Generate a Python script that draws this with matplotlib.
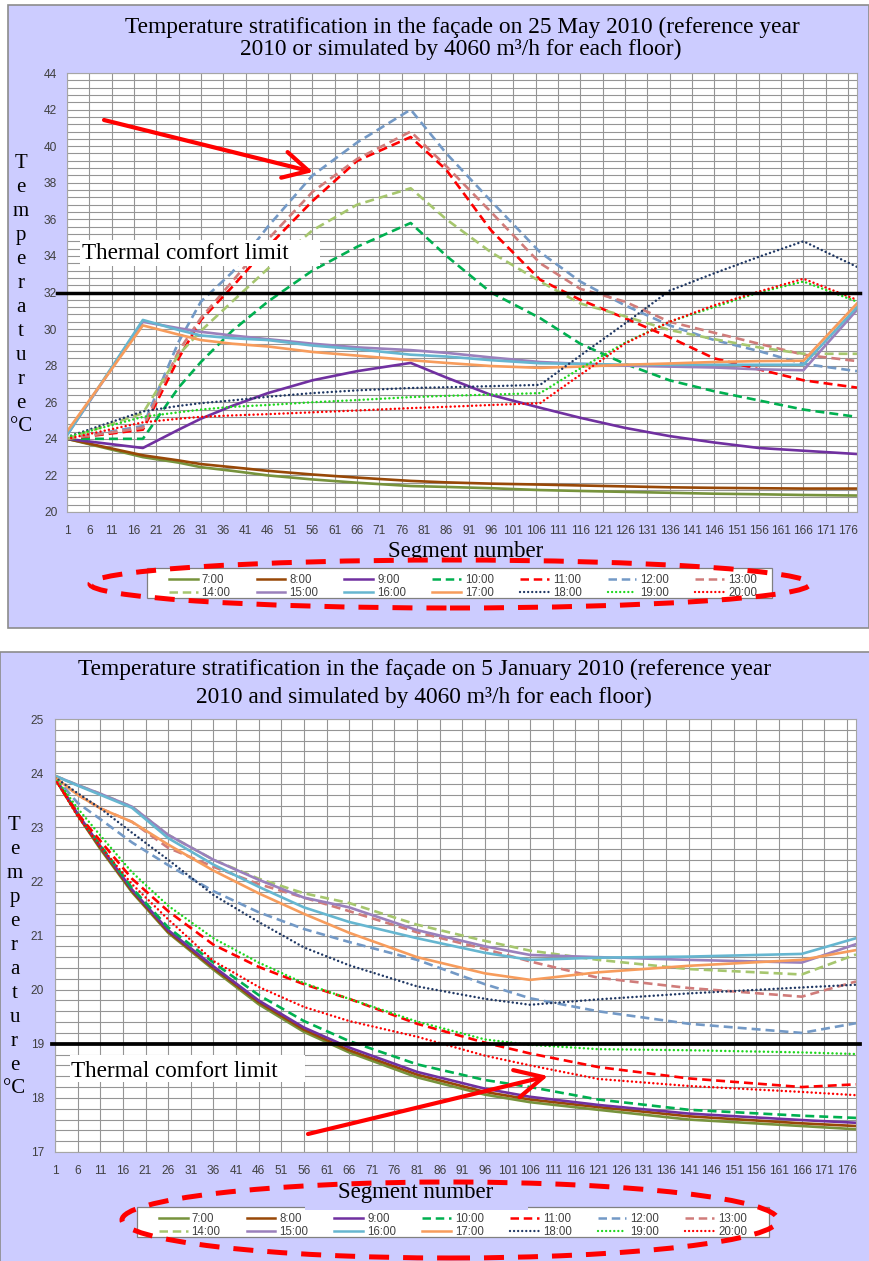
import numpy as np
import matplotlib
matplotlib.use("Agg")
import matplotlib.pyplot as plt
from matplotlib.patches import Rectangle, Ellipse, FancyArrowPatch
from matplotlib.lines import Line2D

# Data

hours = ["7:00", "8:00", "9:00", "10:00", "11:00", "12:00", "13:00",
         "14:00", "15:00", "16:00", "17:00", "18:00", "19:00", "20:00"]

# 25 May 2010
seg_may = [1, 18, 26, 31, 38, 46, 56, 66, 78, 86, 96, 107, 116, 126, 136, 146, 156, 166, 178]
may_07 = [24.0, 23.0, 22.7, 22.45, 22.25, 22.0, 21.78, 21.6, 21.42, 21.37, 21.3, 21.2, 21.15, 21.1, 21.05, 21.0, 20.97, 20.93, 20.9]
may_08 = [24.0, 23.1, 22.82, 22.62, 22.45, 22.25, 22.05, 21.88, 21.7, 21.62, 21.55, 21.5, 21.45, 21.4, 21.35, 21.32, 21.3, 21.28, 21.28]
may_09 = [24.0, 23.5, 24.5, 25.1, 25.8, 26.5, 27.2, 27.7, 28.15, 27.35, 26.4, 25.7, 25.15, 24.6, 24.15, 23.8, 23.5, 23.35, 23.17]
may_10 = [24.0, 24.0, 26.8, 28.2, 29.9, 31.5, 33.2, 34.5, 35.8, 34.0, 32.0, 30.6, 29.2, 28.1, 27.2, 26.6, 26.1, 25.6, 25.2]
may_11 = [24.0, 24.5, 28.4, 30.5, 32.3, 34.5, 37.0, 39.2, 40.5, 38.7, 35.4, 32.7, 31.6, 30.6, 29.55, 28.4, 27.8, 27.2, 26.8]
may_12 = [24.0, 24.7, 29.3, 31.5, 33.1, 35.6, 38.4, 40.2, 42.0, 39.6, 37.0, 34.2, 32.6, 31.3, 30.2, 29.4, 28.8, 28.1, 27.7]
may_13 = [24.0, 24.6, 28.8, 30.6, 32.6, 34.9, 37.5, 39.3, 40.8, 38.9, 36.4, 33.6, 32.2, 31.5, 30.4, 29.8, 29.2, 28.6, 28.25]
may_14 = [24.0, 25.4, 28.6, 29.9, 31.5, 33.3, 35.4, 36.8, 37.7, 36.0, 34.2, 32.6, 31.4, 30.7, 29.95, 29.45, 29.0, 28.65, 28.65]
may_15 = [24.2, 30.4, 30.05, 29.85, 29.65, 29.45, 29.2, 29.0, 28.85, 28.7, 28.45, 28.2, 28.1, 28.0, 27.95, 27.9, 27.8, 27.75, 31.05]
may_16 = [24.2, 30.5, 29.95, 29.65, 29.5, 29.4, 29.1, 28.9, 28.6, 28.5, 28.3, 28.13, 28.1, 28.05, 28.05, 28.05, 28.05, 28.05, 31.2]
may_17 = [24.4, 30.2, 29.7, 29.4, 29.2, 29.05, 28.75, 28.55, 28.3, 28.15, 27.98, 27.88, 27.95, 28.05, 28.12, 28.2, 28.25, 28.27, 31.4]
may_18 = [24.1, 25.5, 25.8, 25.95, 26.1, 26.3, 26.5, 26.65, 26.78, 26.82, 26.88, 26.95, 28.55, 30.3, 32.1, 33.05, 33.95, 34.8, 33.4]
may_19 = [24.1, 25.2, 25.45, 25.6, 25.75, 25.85, 26.0, 26.12, 26.28, 26.35, 26.42, 26.5, 27.85, 29.25, 30.4, 31.2, 32.0, 32.6, 31.5]
may_20 = [24.0, 24.9, 25.1, 25.2, 25.28, 25.35, 25.45, 25.55, 25.68, 25.75, 25.85, 25.95, 27.5, 29.2, 30.4, 31.3, 32.05, 32.75, 31.6]

# 5 January 2010
seg_jan = [1, 6, 11, 18, 26, 36, 46, 56, 66, 81, 96, 106, 121, 141, 166, 178]
jan_07 = [23.9, 23.22, 22.6, 21.8, 21.05, 20.37, 19.73, 19.22, 18.84, 18.38, 18.06, 17.92, 17.78, 17.6, 17.48, 17.42]
jan_08 = [23.9, 23.23, 22.62, 21.82, 21.07, 20.4, 19.77, 19.26, 18.88, 18.43, 18.11, 17.97, 17.83, 17.66, 17.53, 17.48]
jan_09 = [23.92, 23.25, 22.65, 21.85, 21.1, 20.43, 19.8, 19.3, 18.93, 18.48, 18.17, 18.02, 17.87, 17.71, 17.59, 17.54]
jan_10 = [23.92, 23.26, 22.67, 21.88, 21.15, 20.5, 19.9, 19.42, 19.05, 18.62, 18.33, 18.2, 17.97, 17.78, 17.67, 17.63]
jan_11 = [23.9, 23.25, 22.75, 22.05, 21.45, 20.83, 20.42, 20.1, 19.83, 19.37, 19.02, 18.82, 18.57, 18.36, 18.2, 18.25]
jan_12 = [23.93, 23.45, 23.15, 22.72, 22.3, 21.82, 21.43, 21.12, 20.88, 20.55, 20.1, 19.84, 19.6, 19.37, 19.2, 19.38]
jan_13 = [23.92, 23.6, 23.35, 23.1, 22.62, 22.27, 21.95, 21.7, 21.45, 21.06, 20.75, 20.52, 20.22, 20.03, 19.87, 20.15]
jan_14 = [23.95, 23.78, 23.62, 23.38, 22.86, 22.4, 22.05, 21.78, 21.6, 21.2, 20.9, 20.72, 20.55, 20.38, 20.28, 20.65]
jan_15 = [23.95, 23.78, 23.62, 23.38, 22.86, 22.4, 22.03, 21.7, 21.52, 21.1, 20.8, 20.64, 20.6, 20.55, 20.5, 20.84]
jan_16 = [23.95, 23.77, 23.6, 23.36, 22.8, 22.31, 21.9, 21.52, 21.25, 20.95, 20.68, 20.55, 20.59, 20.61, 20.66, 20.95]
jan_17 = [23.92, 23.6, 23.35, 23.1, 22.68, 22.2, 21.78, 21.4, 21.05, 20.6, 20.3, 20.18, 20.32, 20.44, 20.55, 20.73]
jan_18 = [23.92, 23.63, 23.35, 22.9, 22.4, 21.75, 21.25, 20.78, 20.45, 20.06, 19.83, 19.72, 19.82, 19.93, 20.04, 20.09]
jan_19 = [23.92, 23.35, 22.85, 22.17, 21.55, 20.95, 20.5, 20.12, 19.83, 19.41, 19.08, 18.98, 18.9, 18.88, 18.84, 18.81]
jan_20 = [23.9, 23.2, 22.65, 21.95, 21.3, 20.53, 20.05, 19.68, 19.42, 19.13, 18.78, 18.6, 18.35, 18.22, 18.11, 18.05]

comfort_may = 32
comfort_jan = 19

may_series = [may_07, may_08, may_09, may_10, may_11, may_12, may_13,
              may_14, may_15, may_16, may_17, may_18, may_19, may_20]
jan_series = [jan_07, jan_08, jan_09, jan_10, jan_11, jan_12, jan_13,
              jan_14, jan_15, jan_16, jan_17, jan_18, jan_19, jan_20]

# Styling
colors = ["#77933C", "#984807", "#7030A0", "#00B050", "#FF0000", "#7399C6", "#D07C7A",
          "#A6C66E", "#9A80BC", "#66B6D0", "#F79C5C", "#203864", "#1ED81E", "#FF0000"]
kinds = ["solid"] * 3 + ["dash"] * 5 + ["solid"] * 3 + ["dot"] * 3

W, H = 869, 1261
LAV = "#CCCCFF"
SERIF = "Liberation Serif"
SANS = "Liberation Sans"
GRID = "#959595"


def fx(x):
    return x / W


def fy(y):
    return 1 - y / H


def style(kind, lw):
    if kind == "dash":
        return dict(linestyle=(0, (3.4, 1.9)), lw=lw)
    if kind == "dot":
        return dict(linestyle=(0, (0.01, 1.7)), lw=lw * 0.95, dash_capstyle="round")
    return dict(linestyle="-", lw=lw)


def make_axes(left, top, right, bottom, seg, series, ymin, ymax, ymajor, yminor, lw, ypad, xpad):
    ax = fig.add_axes([fx(left), fy(bottom), (right - left) / W, (bottom - top) / H])
    ax.set_xlim(1, 178)
    ax.set_ylim(ymin, ymax)
    ax.set_xticks(range(1, 177, 5))
    ax.set_yticks(np.arange(ymin, ymax + 0.001, ymajor))
    ax.set_yticks(np.arange(ymin, ymax + 0.001, yminor), minor=True)
    ax.set_axisbelow(True)
    ax.grid(which="both", axis="y", color=GRID, lw=0.8)
    ax.grid(which="major", axis="x", color=GRID, lw=0.8)
    ax.tick_params(which="both", length=0)
    ax.tick_params(axis="y", pad=ypad, labelsize=8.6, labelcolor="#404040")
    ax.tick_params(axis="x", pad=xpad, labelsize=8.6, labelcolor="#404040")
    for lab in ax.get_xticklabels() + ax.get_yticklabels():
        lab.set_fontfamily(SANS)
    for sp in ax.spines.values():
        sp.set_color("#a6a6a6")
        sp.set_linewidth(0.8)
    for vals, c, k in zip(series, colors, kinds):
        ax.plot(seg, vals, color=c, **style(k, lw))
    return ax


def add_legend(frame, first_x, first_y, fs):
    x0, y0, x1, y1 = frame
    fig.add_artist(Rectangle((fx(x0), fy(y1)), (x1 - x0) / W, (y1 - y0) / H,
                             transform=fig.transFigure, facecolor="white",
                             edgecolor="#808080", lw=0.9, zorder=2))
    handles = [Line2D([], [], color=c, **style(k, 1.8)) for c, k in zip(colors, kinds)]
    order = []
    for i in range(7):
        order += [i, i + 7]
    fig.legend([handles[i] for i in order], [hours[i] for i in order], ncol=7,
               loc="upper left", bbox_to_anchor=(fx(first_x), fy(first_y)),
               frameon=False, borderpad=0, handlelength=2.5, handletextpad=0.35,
               columnspacing=2.25, labelspacing=0.15,
               prop={"family": SANS, "size": fs}, labelcolor="#404040")


fig = plt.figure(figsize=(W / 100, H / 100), dpi=100)

# Panel backgrounds
fig.add_artist(Rectangle((fx(8), fy(628)), (869 - 8) / W, (628 - 5) / H, transform=fig.transFigure,
                         facecolor=LAV, edgecolor="#8c8c8c", lw=1.2, zorder=-1))
fig.add_artist(Rectangle((fx(0), fy(1262)), 870 / W, (1262 - 652) / H, transform=fig.transFigure,
                         facecolor=LAV, edgecolor="#8c8c8c", lw=1.2, zorder=-1))

letters = list("Temperature") + ["°C"]

# ---- Top chart: 25 May 2010 ----
ax1 = make_axes(67, 73, 857, 512, seg_may, may_series, 20, 44, 2, 0.4, 1.9, 7, 9.5)
ax1.axhline(comfort_may, xmin=-10 / 790, xmax=1 + 3 / 790, color="black", lw=2.5, clip_on=False, zorder=5)

fig.text(fx(462), fy(33), "Temperature stratification in the façade on 25 May 2010 (reference year",
         ha="center", va="baseline", family=SERIF, fontsize=16.8)
fig.text(fx(461), fy(55), "2010 or simulated by 4060 m³/h for each floor)",
         ha="center", va="baseline", family=SERIF, fontsize=16.8)
for i, ch in enumerate(letters):
    fig.text(fx(21), fy(164 + i * 23.9), ch, ha="center", va="center", family=SERIF, fontsize=15)
fig.text(fx(466), fy(557), "Segment number", ha="center", va="baseline", family=SERIF, fontsize=16.5)

fig.add_artist(Rectangle((fx(80), fy(266)), 240 / W, 26 / H, transform=fig.transFigure,
                         facecolor="white", edgecolor="none", zorder=3))
fig.text(fx(82), fy(259), "Thermal comfort limit", ha="left", va="baseline",
         family=SERIF, fontsize=16.7, zorder=4)

fig.add_artist(FancyArrowPatch((fx(104), fy(120)), (fx(313), fy(172)), transform=fig.transFigure,
                               arrowstyle="->,head_length=1.8,head_width=0.95", mutation_scale=10,
                               color="red", lw=3, shrinkA=0, shrinkB=0, zorder=6))

add_legend((147, 568, 772, 598), 163, 568, 8.3)
fig.add_artist(Ellipse((fx(450), fy(584)), 720 / W, 48 / H, transform=fig.transFigure, fill=False,
                       edgecolor="red", lw=3.6, linestyle=(0, (4, 2.8)), zorder=7))

# ---- Bottom chart: 5 January 2010 ----
ax2 = make_axes(55, 719, 856, 1152, seg_jan, jan_series, 17, 25, 1, 0.2, 1.9, 8, 9.5)
ax2.axhline(comfort_jan, xmin=-3 / 801, xmax=1 + 4 / 801, color="black", lw=2.7, clip_on=False, zorder=5)

fig.text(fx(424.5), fy(675), "Temperature stratification in the façade on 5 January 2010 (reference year",
         ha="center", va="baseline", family=SERIF, fontsize=16.8)
fig.text(fx(424), fy(702.5), "2010 and simulated by 4060 m³/h for each floor)",
         ha="center", va="baseline", family=SERIF, fontsize=16.8)
for i, ch in enumerate(letters):
    fig.text(fx(14.5), fy(826 + i * 23.9), ch, ha="center", va="center", family=SERIF, fontsize=15)

fig.add_artist(Rectangle((fx(70), fy(1082)), 235 / W, 27 / H, transform=fig.transFigure,
                         facecolor="white", edgecolor="none", zorder=3))
fig.text(fx(71), fy(1077), "Thermal comfort limit", ha="left", va="baseline",
         family=SERIF, fontsize=16.7, zorder=4)

fig.add_artist(FancyArrowPatch((fx(308), fy(1134)), (fx(548), fy(1076)), transform=fig.transFigure,
                               arrowstyle="->,head_length=2.0,head_width=1.0", mutation_scale=10,
                               color="red", lw=3, shrinkA=0, shrinkB=0, zorder=6))

add_legend((137, 1207, 769, 1237), 153, 1207, 8.3)
fig.add_artist(Rectangle((fx(305), fy(1209.5)), 223 / W, 36 / H, transform=fig.transFigure,
                         facecolor=LAV, edgecolor="none", zorder=8))
fig.text(fx(415.5), fy(1198), "Segment number", ha="center", va="baseline", family=SERIF,
         fontsize=16.5, zorder=9)
fig.add_artist(Ellipse((fx(450), fy(1220)), 656 / W, 76 / H, transform=fig.transFigure, fill=False,
                       edgecolor="red", lw=3.6, linestyle=(0, (4, 2.8)), zorder=10))

fig.savefig("out.png", dpi=100)
